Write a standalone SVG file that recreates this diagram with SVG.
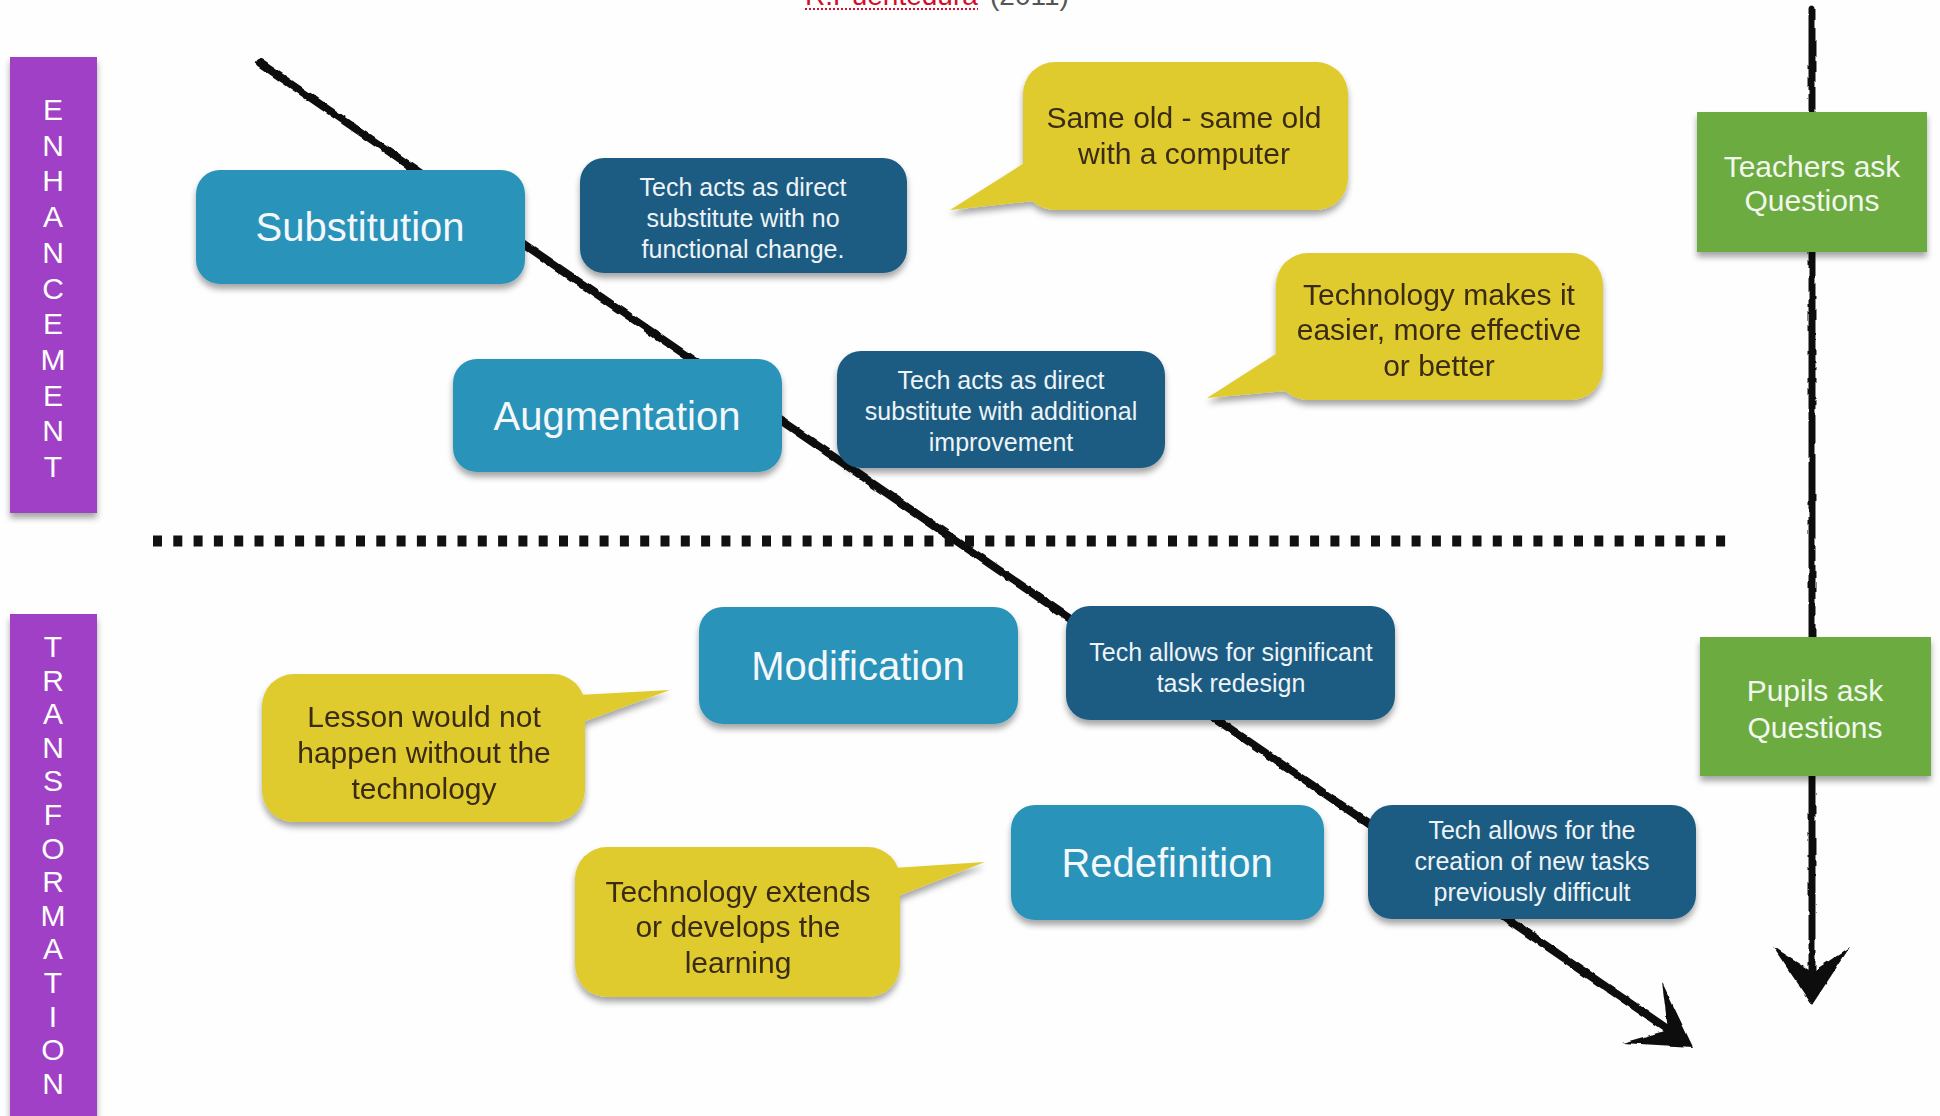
<svg xmlns="http://www.w3.org/2000/svg" width="1940" height="1116" viewBox="0 0 1940 1116">
<defs>
<filter id="shadow" x="-10%" y="-10%" width="120%" height="130%">
<feDropShadow dx="0" dy="5" stdDeviation="3" flood-color="#000" flood-opacity="0.35"/>
</filter>
<filter id="rough" x="-5%" y="-5%" width="110%" height="110%">
<feTurbulence type="fractalNoise" baseFrequency="0.09" numOctaves="2" seed="3" result="n"/>
<feDisplacementMap in="SourceGraphic" in2="n" scale="3.5" xChannelSelector="R" yChannelSelector="G"/>
</filter>
<style>
.side{fill:#9f3fc7}
.sideT{font-family:"Liberation Sans",Arial,sans-serif;font-size:30px;fill:#fff;text-anchor:middle}
.lvl{fill:#2b93b9;filter:url(#shadow)}
.lvlT{font-family:"Liberation Sans",Arial,sans-serif;font-size:40px;fill:#f4f8fb;text-anchor:middle}
.desc{fill:#1b5c82;filter:url(#shadow)}
.descT{font-family:"Liberation Sans",Arial,sans-serif;font-size:25px;fill:#eef3f7;text-anchor:middle}
.bub{fill:#dfcb2d}
.bubT{font-family:"Liberation Sans",Arial,sans-serif;font-size:30px;fill:#3a2c12;text-anchor:middle}
.grn{fill:#6cab3f;filter:url(#shadow)}
.grnT{font-family:"Liberation Sans",Arial,sans-serif;font-size:30px;fill:#f2f7ee;text-anchor:middle}
.ink{stroke:#111;fill:none;stroke-linecap:round}
.head{fill:#111}
</style>
</defs>
<rect x="0" y="0" width="1940" height="1116" fill="#fefefe"/>

<g id="title">
<text x="805" y="5" font-family="Liberation Sans,Arial,sans-serif" font-size="28" fill="#d0102a">R.Puentedura</text>
<line x1="805" y1="9" x2="978" y2="9" stroke="#d0102a" stroke-width="2" stroke-dasharray="2 2"/>
<text x="990" y="5" font-family="Liberation Sans,Arial,sans-serif" font-size="28" fill="#555">(2011)</text>
</g>

<g id="connectors">
<g filter="url(#rough)">
<line class="ink" x1="260" y1="63" x2="1672" y2="1032" stroke-width="8"/>
<polygon class="head" points="1693,1047 1662,982 1668,1030 1622,1043"/>
<line class="ink" x1="1812" y1="9" x2="1812" y2="985" stroke-width="7"/>
<polygon class="head" points="1812,1005 1773,947 1812,972 1850,947"/>
</g>
<line x1="153" y1="541" x2="1734" y2="541" stroke="#111" stroke-width="11" stroke-dasharray="9 11.3"/>
</g>

<g id="enhancement">
<rect class="side" x="10" y="57" width="87" height="456" filter="url(#shadow)"/>
<text class="sideT" x="53" y="120">E</text>
<text class="sideT" x="53" y="156">N</text>
<text class="sideT" x="53" y="191">H</text>
<text class="sideT" x="53" y="227">A</text>
<text class="sideT" x="53" y="263">N</text>
<text class="sideT" x="53" y="299">C</text>
<text class="sideT" x="53" y="334">E</text>
<text class="sideT" x="53" y="370">M</text>
<text class="sideT" x="53" y="406">E</text>
<text class="sideT" x="53" y="441">N</text>
<text class="sideT" x="53" y="477">T</text>
</g>

<g id="transformation">
<rect class="side" x="10" y="614" width="87" height="510" filter="url(#shadow)"/>
<text class="sideT" x="53" y="657">T</text>
<text class="sideT" x="53" y="691">R</text>
<text class="sideT" x="53" y="724">A</text>
<text class="sideT" x="53" y="758">N</text>
<text class="sideT" x="53" y="791">S</text>
<text class="sideT" x="53" y="825">F</text>
<text class="sideT" x="53" y="859">O</text>
<text class="sideT" x="53" y="892">R</text>
<text class="sideT" x="53" y="926">M</text>
<text class="sideT" x="53" y="959">A</text>
<text class="sideT" x="53" y="993">T</text>
<text class="sideT" x="53" y="1027">I</text>
<text class="sideT" x="53" y="1060">O</text>
<text class="sideT" x="53" y="1094">N</text>
</g>

<g id="substitution">
<rect class="lvl" x="196" y="170" width="329" height="114" rx="24"/>
<text class="lvlT" x="360" y="241">Substitution</text>
</g>
<g id="substitution-desc">
<rect class="desc" x="580" y="158" width="327" height="115" rx="24"/>
<text class="descT" x="743" y="196">Tech acts as direct</text>
<text class="descT" x="743" y="227">substitute with no</text>
<text class="descT" x="743" y="258">functional change.</text>
</g>
<g id="substitution-note" filter="url(#shadow)">
<rect class="bub" x="1023" y="62" width="325" height="148" rx="32"/>
<polygon class="bub" points="1029,160 950,210 1042,200"/>
<text class="bubT" x="1184" y="128">Same old - same old</text>
<text class="bubT" x="1184" y="164">with a computer</text>
</g>

<g id="augmentation">
<rect class="lvl" x="453" y="359" width="329" height="113" rx="24"/>
<text class="lvlT" x="617" y="430">Augmentation</text>
</g>
<g id="augmentation-desc">
<rect class="desc" x="837" y="351" width="328" height="117" rx="24"/>
<text class="descT" x="1001" y="389">Tech acts as direct</text>
<text class="descT" x="1001" y="420">substitute with additional</text>
<text class="descT" x="1001" y="451">improvement</text>
</g>
<g id="augmentation-note" filter="url(#shadow)">
<rect class="bub" x="1276" y="253" width="327" height="147" rx="32"/>
<polygon class="bub" points="1282,350 1207,398 1296,390"/>
<text class="bubT" x="1439" y="305">Technology makes it</text>
<text class="bubT" x="1439" y="340">easier, more effective</text>
<text class="bubT" x="1439" y="376">or better</text>
</g>

<g id="modification">
<rect class="lvl" x="699" y="607" width="319" height="117" rx="24"/>
<text class="lvlT" x="858" y="680">Modification</text>
</g>
<g id="modification-desc">
<rect class="desc" x="1066" y="606" width="329" height="114" rx="24"/>
<text class="descT" x="1231" y="661">Tech allows for significant</text>
<text class="descT" x="1231" y="692">task redesign</text>
</g>
<g id="modification-note" filter="url(#shadow)">
<rect class="bub" x="262" y="674" width="323" height="148" rx="32"/>
<polygon class="bub" points="578,695 670,690 572,726"/>
<text class="bubT" x="424" y="727">Lesson would not</text>
<text class="bubT" x="424" y="763">happen without the</text>
<text class="bubT" x="424" y="799">technology</text>
</g>

<g id="redefinition">
<rect class="lvl" x="1011" y="805" width="313" height="115" rx="24"/>
<text class="lvlT" x="1167" y="877">Redefinition</text>
</g>
<g id="redefinition-desc">
<rect class="desc" x="1368" y="805" width="328" height="114" rx="24"/>
<text class="descT" x="1532" y="839">Tech allows for the</text>
<text class="descT" x="1532" y="870">creation of new tasks</text>
<text class="descT" x="1532" y="901">previously difficult</text>
</g>
<g id="redefinition-note" filter="url(#shadow)">
<rect class="bub" x="575" y="847" width="325" height="150" rx="32"/>
<polygon class="bub" points="893,868 985,862 888,900"/>
<text class="bubT" x="738" y="902">Technology extends</text>
<text class="bubT" x="738" y="937">or develops the</text>
<text class="bubT" x="738" y="973">learning</text>
</g>

<g id="teachers">
<rect class="grn" x="1697" y="112" width="230" height="140"/>
<text class="grnT" x="1812" y="177">Teachers ask</text>
<text class="grnT" x="1812" y="211">Questions</text>
</g>
<g id="pupils">
<rect class="grn" x="1700" y="637" width="231" height="139"/>
<text class="grnT" x="1815" y="701">Pupils ask</text>
<text class="grnT" x="1815" y="738">Questions</text>
</g>
</svg>
